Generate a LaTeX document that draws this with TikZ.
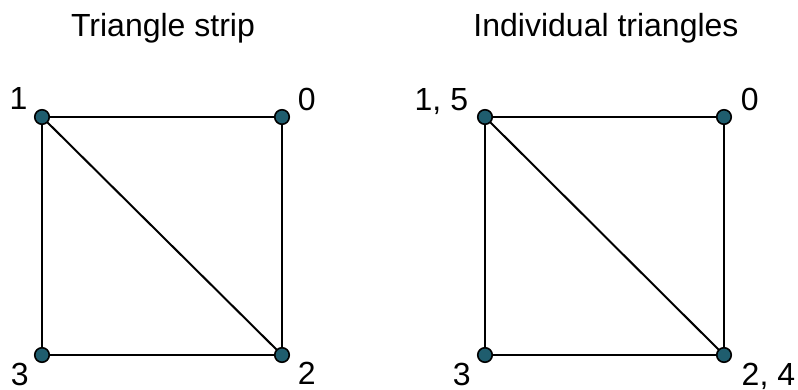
\documentclass[tikz,border=0pt]{standalone}
\usepackage{fontspec}
\setmainfont{Liberation Sans}
\definecolor{dotteal}{RGB}{31,93,110}
\begin{document}
\begin{tikzpicture}[x=1pt,y=-1pt,
  edge/.style={line width=2pt,black},
  vtx/.style={circle,fill=dotteal,draw=black,line width=1.6pt,minimum size=14.5pt,inner sep=0pt},
  lbl/.style={anchor=base west,inner sep=0pt,font=\fontsize{32}{38}\selectfont},
  ttl/.style={anchor=base,inner sep=0pt,font=\fontsize{32}{38}\selectfont}]
\useasboundingbox (0,0) rectangle (798,390);
\node[ttl] (t1) at (163,37) {Triangle strip};
\node[ttl] (t2) at (606,37) {Individual triangles};
% left square
\coordinate (a1) at (42,117);
\coordinate (a0) at (282,117);
\coordinate (a3) at (42,355);
\coordinate (a2) at (282,355);
\draw[edge] (a1) -- (a0) -- (a2) -- (a3) -- cycle;
\draw[edge] (a1) -- (a2);
\node[vtx] (v1) at (a1) {};
\node[vtx] (v0) at (a0) {};
\node[vtx] (v3) at (a3) {};
\node[vtx] (v2) at (a2) {};
\node[lbl] (l1) at (9.5,110) {1};
\node[lbl] (l0) at (297.7,111) {0};
\node[lbl] (l3) at (10.7,385) {3};
\node[lbl] (l2) at (297.7,384) {2};
% right square
\coordinate (b1) at (485,117);
\coordinate (b0) at (724,117);
\coordinate (b3) at (485,355);
\coordinate (b2) at (724,355);
\draw[edge] (b1) -- (b0) -- (b2) -- (b3) -- cycle;
\draw[edge] (b1) -- (b2);
\node[vtx] (w1) at (b1) {};
\node[vtx] (w0) at (b0) {};
\node[vtx] (w3) at (b3) {};
\node[vtx] (w2) at (b2) {};
\node[lbl] (m1) at (414.5,111) {1, 5};
\node[lbl] (m0) at (740.7,111) {0};
\node[lbl] (m3) at (452.7,385) {3};
\node[lbl] (m2) at (741.5,385) {2, 4};
\end{tikzpicture}
\end{document}
